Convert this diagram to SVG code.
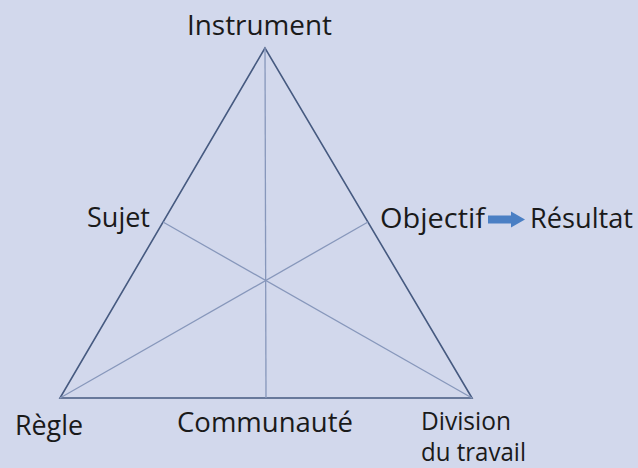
<svg xmlns="http://www.w3.org/2000/svg" width="638" height="468" viewBox="0 0 638 468">
<style>
.t{font-family:"Open Sans","Liberation Sans",sans-serif;font-size:28px;fill:#1a1a1a}
.s{font-size:25px}
.edge{stroke:#465a80;stroke-width:1.6;fill:none}
.inner{stroke:#8797bb;stroke-width:1.3;fill:none}
</style>
<rect width="638" height="468" fill="#d2d8ec"/>
<g id="connectors">
<polygon class="edge" points="265,48 60,398 472,398" stroke-linejoin="miter"/>
<line class="inner" x1="265" y1="48" x2="266" y2="398"/>
<line class="inner" x1="163" y1="222" x2="472" y2="398"/>
<line class="inner" x1="368" y1="222" x2="60" y2="398"/>
<path id="arrow" d="M488,215.5 L511,215.5 L511,211.5 L525,219.5 L511,227.5 L511,223.5 L488,223.5 Z" fill="#4a7fc4"/>
</g>
<g id="instrument"><text class="t" x="187" y="35" textLength="145" lengthAdjust="spacingAndGlyphs">Instrument</text></g>
<g id="sujet"><text class="t" x="87" y="227" textLength="63" lengthAdjust="spacingAndGlyphs">Sujet</text></g>
<g id="objectif"><text class="t" x="380" y="228" textLength="105" lengthAdjust="spacingAndGlyphs">Objectif</text></g>
<g id="resultat"><text class="t" x="530" y="228" textLength="103" lengthAdjust="spacingAndGlyphs">Résultat</text></g>
<g id="regle"><text class="t" x="15" y="435" textLength="68" lengthAdjust="spacingAndGlyphs">Règle</text></g>
<g id="communaute"><text class="t" x="177" y="432" textLength="176" lengthAdjust="spacingAndGlyphs">Communauté</text></g>
<g id="division"><text class="t s" x="421" y="430" textLength="90" lengthAdjust="spacingAndGlyphs">Division</text><text class="t s" x="421" y="461" textLength="105" lengthAdjust="spacingAndGlyphs">du travail</text></g>
</svg>
